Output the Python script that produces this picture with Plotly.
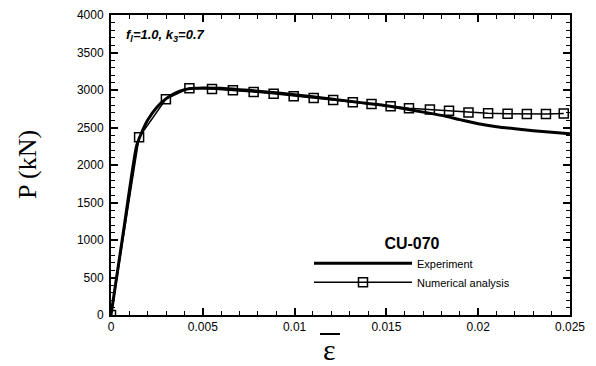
import plotly.graph_objects as go

# Experiment curve (strain, load kN)
exp_strain = [0, 0.0007, 0.0014, 0.0017, 0.002, 0.0025, 0.003, 0.0035, 0.004, 0.0045, 0.005,
              0.006, 0.007, 0.008, 0.009, 0.010, 0.011, 0.012, 0.013, 0.014, 0.015, 0.016,
              0.017, 0.018, 0.019, 0.020, 0.021, 0.022, 0.023, 0.024, 0.025]
exp_load = [0, 1150, 2260, 2450, 2600, 2770, 2885, 2960, 3005, 3022, 3028,
            3022, 3005, 2985, 2962, 2938, 2910, 2880, 2850, 2820, 2790, 2750,
            2705, 2662, 2605, 2550, 2510, 2482, 2458, 2437, 2418]

# Numerical analysis (strain, load kN)
num_strain = [0, 0.00153, 0.00299, 0.00427, 0.0055, 0.00664, 0.00777, 0.00886, 0.00995,
              0.01104, 0.0121, 0.01317, 0.01419, 0.01523, 0.01623, 0.01737, 0.01841,
              0.01947, 0.02054, 0.0216, 0.02265, 0.02369, 0.02466]
num_load = [0, 2370, 2878, 3025, 3013, 2996, 2973, 2950, 2918,
            2892, 2868, 2836, 2812, 2782, 2757, 2740, 2722,
            2700, 2690, 2682, 2680, 2680, 2688]

x_ticks = [0, 0.005, 0.01, 0.015, 0.02, 0.025]
x_ticklabels = ["0", "0.005", "0.01", "0.015", "0.02", "0.025"]
y_ticks = [0, 500, 1000, 1500, 2000, 2500, 3000, 3500, 4000]

fig = go.Figure()
fig.add_trace(go.Scatter(x=exp_strain, y=exp_load, mode="lines", name="Experiment",
                         line=dict(color="black", width=3, shape="spline", smoothing=0.6)))
fig.add_trace(go.Scatter(x=num_strain, y=num_load, mode="lines+markers", name="Numerical analysis",
                         line=dict(color="black", width=1.5),
                         marker=dict(symbol="square-open", size=9, color="black",
                                     line=dict(width=1.5, color="black"))))

axis_font = dict(family="Liberation Sans, Arial", size=12, color="black")
fig.update_xaxes(range=[0, 0.025], tickvals=x_ticks, ticktext=x_ticklabels,
                 ticks="inside", ticklen=7, tickwidth=1.5, tickcolor="black",
                 minor=dict(dtick=0.001, ticks="inside", ticklen=4, tickwidth=1, tickcolor="black"),
                 showline=True, linecolor="black", linewidth=2, mirror="allticks",
                 showgrid=False, zeroline=False, tickfont=axis_font, automargin=False)
fig.update_yaxes(range=[0, 4000], tickvals=y_ticks,
                 ticks="inside", ticklen=7, tickwidth=1.5, tickcolor="black",
                 minor=dict(dtick=100, ticks="inside", ticklen=4, tickwidth=1, tickcolor="black"),
                 showline=True, linecolor="black", linewidth=2, mirror="allticks",
                 showgrid=False, zeroline=False, tickfont=axis_font, ticklabelstandoff=3,
                 automargin=False)

L, T, W, H = 111, 15, 459, 300

def px(xp):
    return (xp - L) / W

def py(yp):
    return (T + H - yp) / H

fig.update_layout(
    width=596, height=366,
    margin=dict(l=L, r=596 - L - W, t=T, b=366 - T - H),
    paper_bgcolor="white", plot_bgcolor="white",
    showlegend=True,
    legend=dict(x=px(309), y=py(228), xanchor="left", yanchor="top",
                bgcolor="rgba(0,0,0,0)", itemwidth=98,
                font=dict(family="Liberation Sans, Arial", size=11, color="black"),
                title=dict(text="<b>CU-070</b>", side="top center",
                           font=dict(family="Liberation Sans, Arial", size=16, color="black")),
                tracegroupgap=0),
    annotations=[
        dict(text="<b><i>f<sub>l</sub>=1.0, k<sub>3</sub>=0.7</i></b>", xref="paper", yref="paper",
             x=px(124), y=py(35), xanchor="left", yanchor="middle", showarrow=False,
             font=dict(family="Liberation Sans, Arial", size=13, color="black")),
        dict(text="P (kN)", xref="paper", yref="paper", x=px(27), y=0.5, textangle=-90,
             xanchor="center", yanchor="middle", showarrow=False,
             font=dict(family="Liberation Serif, Times New Roman", size=26, color="black")),
        dict(text="ε", xref="paper", yref="paper", x=px(329), y=py(349),
             xanchor="center", yanchor="middle", showarrow=False,
             font=dict(family="Liberation Serif, Times New Roman", size=30, color="black")),
    ],
    shapes=[
        dict(type="line", xref="paper", yref="paper", x0=px(320), x1=px(340), y0=py(334), y1=py(334),
             line=dict(color="black", width=2)),
    ],
)

fig.write_html("out.html", post_script="document.body.style.margin='0';",
               config={"displayModeBar": False})
